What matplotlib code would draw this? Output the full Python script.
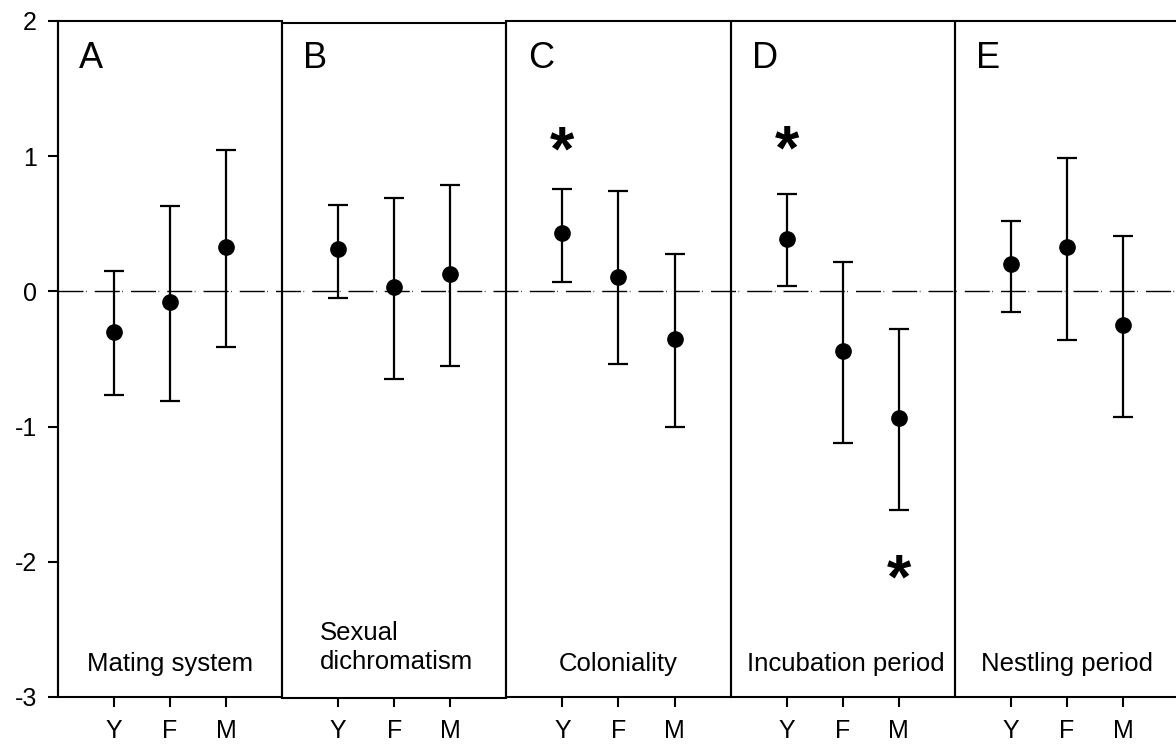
import matplotlib
matplotlib.use("Agg")
import matplotlib.pyplot as plt
from matplotlib.patches import Rectangle

plt.rcParams['font.family'] = ['Liberation Sans', 'DejaVu Sans']

panels = ['A', 'B', 'C', 'D', 'E']
groups = ['Y', 'F', 'M']
traits = ['Mating system', 'Sexual\ndichromatism', 'Coloniality', 'Incubation period', 'Nestling period']

means = [
    [-0.30, -0.08, 0.33],
    [0.31, 0.03, 0.13],
    [0.43, 0.11, -0.35],
    [0.39, -0.44, -0.94],
    [0.20, 0.33, -0.25],
]
upper = [
    [0.15, 0.63, 1.045],
    [0.64, 0.69, 0.79],
    [0.76, 0.74, 0.28],
    [0.72, 0.22, -0.28],
    [0.52, 0.99, 0.41],
]
lower = [
    [-0.765, -0.81, -0.41],
    [-0.05, -0.65, -0.555],
    [0.07, -0.54, -1.00],
    [0.04, -1.125, -1.62],
    [-0.15, -0.36, -0.93],
]
# significance asterisks: (panel index, group index, y)
stars_panel = [2, 3, 3]
stars_group = [0, 0, 2]
stars_y = [1.12, 1.125, -2.05]

yticks = [-3, -2, -1, 0, 1, 2]

W, H = 1176, 745
fig = plt.figure(figsize=(W / 100, H / 100), dpi=100)
ax = fig.add_axes([58 / W, 48 / H, 1121 / W, 676 / H])
ax.set_xlim(0, 20)
ax.set_ylim(-3, 2)
for s in ax.spines.values():
    s.set_visible(False)
ax.spines['left'].set_visible(True)
ax.spines['left'].set_linewidth(1.5)

# zero reference line
ax.axhline(0, color='black', lw=1.0, linestyle=(0, (18, 1.8, 0.5, 5.8)), zorder=1)

xt, xl = [], []
for i in range(5):
    left = 4 * i
    bot, top = (-3.007, 1.988) if i == 1 else (-3, 2)
    ax.add_patch(Rectangle((left, bot), 4, top - bot, fill=False, ec='black',
                           lw=1.5, clip_on=False, zorder=2))
    xs = [left + 1 + j for j in range(3)]
    xt += xs
    xl += groups
    yerr = [[means[i][j] - lower[i][j] for j in range(3)],
            [upper[i][j] - means[i][j] for j in range(3)]]
    ax.errorbar(xs, means[i], yerr=yerr, fmt='o', color='black', ms=11,
                elinewidth=1.6, capsize=7, capthick=1.6, zorder=3)
    ax.text(left + 0.38, 1.655, panels[i], fontsize=26, ha='left', va='baseline')
    if i == 1:
        ax.text(left + 0.68, -2.578, 'Sexual', fontsize=18.5, ha='left', va='baseline')
        ax.text(left + 0.68, -2.792, 'dichromatism', fontsize=18.5, ha='left', va='baseline')
    else:
        cx = left + 2 + (0.06 if i == 3 else 0)
        ax.text(cx, -2.81, traits[i], fontsize=18.5, ha='center', va='baseline')

for p, g, y in zip(stars_panel, stars_group, stars_y):
    fs = 45
    ax.annotate('*', xy=(4 * p + 1 + g, y), xytext=(0, -0.47 * fs), textcoords='offset points',
                ha='center', va='baseline', fontsize=fs, fontweight='bold')

ax.set_xticks(xt)
ax.set_xticklabels(xl)
ax.set_yticks(yticks)
ax.set_yticklabels([str(v) for v in yticks])
ax.tick_params(axis='both', direction='out', length=7.2, width=1.5, labelsize=18)
ax.tick_params(axis='y', pad=8)
ax.tick_params(axis='x', pad=9)

fig.savefig('out.png', dpi=100)
